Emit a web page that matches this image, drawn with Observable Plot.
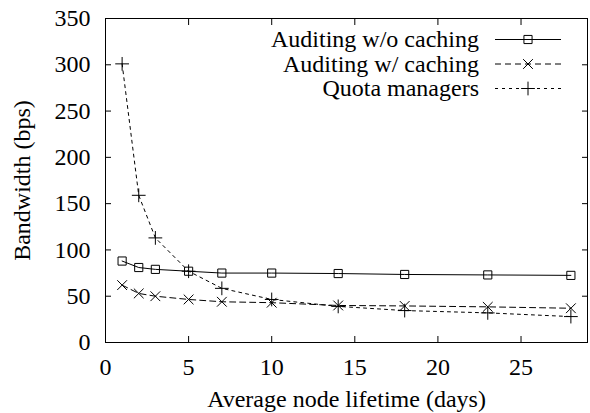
<!DOCTYPE html>
<html>
<head>
<meta charset="utf-8">
<script src="https://cdn.jsdelivr.net/npm/d3@7"></script>
<script src="https://cdn.jsdelivr.net/npm/@observablehq/plot@0.6"></script>
<style>
  html, body { margin: 0; padding: 0; background: white; }
  #wrap { position: relative; width: 590px; height: 413px; font-family: 'Liberation Serif', serif; }
  #legend { position: absolute; left: 0; top: 0; pointer-events: none; }
</style>
</head>
<body>
<div id="wrap"></div>
<script>
const xValues = [1, 2, 3, 5, 7, 10, 14, 18, 23, 28];
const noCache = [88, 81, 79, 77, 75, 75, 74.5, 73.5, 73, 72.5];
const withCache = [62, 53, 50, 46.5, 44, 43, 40, 39.5, 38.5, 37];
const quota = [301, 159, 113, 77, 58.5, 46.5, 39, 34.5, 32, 28];
const seriesNames = ["Auditing w/o caching", "Auditing w/ caching", "Quota managers"];
const xTicks = [0, 5, 10, 15, 20, 25];
const yTicks = [0, 50, 100, 150, 200, 250, 300, 350];

const seriesValues = [noCache, withCache, quota];
const symbols = ["square", "times", "plus"];
const dashes = [null, "6,4", "3,4"];
const radii = [4.6, 4.5, 4.5];

const rows = [];
seriesNames.forEach((name, i) => {
  xValues.forEach((x, j) => rows.push({series: name, x, y: seriesValues[i][j]}));
});

const font = "'Liberation Serif', serif";
const fs = 24;
const marks = [];
seriesNames.forEach((name, i) => {
  const d = rows.filter(r => r.series === name);
  marks.push(Plot.line(d, {x: "x", y: "y", stroke: "black", strokeWidth: 1, strokeDasharray: dashes[i]}));
  marks.push(Plot.dot(d, {x: "x", y: "y", symbol: () => symbols[i], r: radii[i], stroke: "black", strokeWidth: 1, fill: "none"}));
});

const plot = Plot.plot({
  width: 590,
  height: 413,
  marginLeft: 105,
  marginRight: 3,
  marginTop: 18,
  marginBottom: 71,
  style: {fontFamily: font, fontSize: fs + "px", color: "black", background: "white"},
  x: {domain: [0, 29]},
  y: {domain: [0, 350]},
  marks: [
    Plot.axisX({ticks: xTicks, tickSize: -6, tickPadding: 21, tickFormat: d => String(d), fontSize: fs, fontFamily: font,
      label: "Average node lifetime (days)", labelAnchor: "center", labelArrow: "none", labelOffset: 64}),
    Plot.axisX({anchor: "top", ticks: xTicks, tickSize: -6, tickFormat: () => "", label: null}),
    Plot.axisY({ticks: yTicks, tickSize: -6, tickPadding: 21, tickFormat: d => String(d), fontSize: fs, fontFamily: font,
      label: "Bandwidth (bps)", labelAnchor: "center", labelArrow: "none", labelOffset: 93}),
    Plot.axisY({anchor: "right", ticks: yTicks, tickSize: -6, tickFormat: () => "", label: null}),
    ...marks,
    Plot.frame({stroke: "black", strokeWidth: 1})
  ]
});
document.getElementById("wrap").appendChild(plot);

// Legend overlay
const legend = d3.select("#wrap").append("svg")
  .attr("id", "legend").attr("width", 590).attr("height", 413);
const rowY = [39.5, 64, 88.5];
seriesNames.forEach((name, i) => {
  const g = legend.append("g");
  g.append("text").attr("x", 479).attr("y", rowY[i]).attr("dy", "0.32em")
    .attr("text-anchor", "end").style("font-family", font).style("font-size", fs + "px").text(name);
  g.append("line").attr("x1", 495).attr("x2", 561).attr("y1", rowY[i]).attr("y2", rowY[i])
    .attr("stroke", "black").attr("stroke-width", 1).attr("stroke-dasharray", dashes[i]);
  const sym = {square: d3.symbolSquare, times: d3.symbolTimes, plus: d3.symbolPlus}[symbols[i]];
  g.append("path").attr("transform", `translate(528,${rowY[i]})`)
    .attr("d", d3.symbol(sym, Math.PI * radii[i] * radii[i])())
    .attr("fill", "none").attr("stroke", "black").attr("stroke-width", 1);
});
</script>
</body>
</html>
